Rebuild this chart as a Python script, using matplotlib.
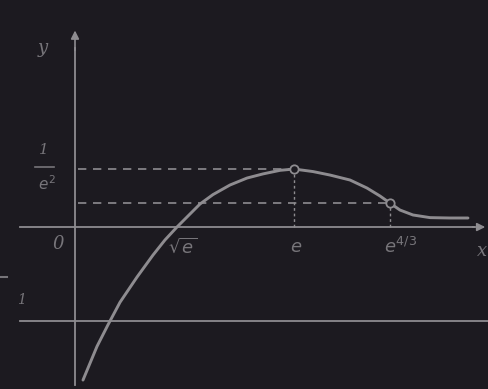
import matplotlib
matplotlib.use("Agg")
import matplotlib.pyplot as plt

# curve (schematic units: 1 unit = distance 0 -> -1 on y axis)
curve_x = [0.085, 0.234, 0.351, 0.479, 0.660, 0.830, 0.957, 1.085, 1.191, 1.330,
           1.468, 1.649, 1.830, 2.000, 2.181, 2.330, 2.532, 2.713, 2.926, 3.106,
           3.245, 3.351, 3.457, 3.596, 3.777, 3.989, 4.181]
curve_y = [-1.628, -1.270, -1.040, -0.800, -0.532, -0.298, -0.138, 0.0, 0.106, 0.245,
           0.345, 0.447, 0.521, 0.565, 0.603, 0.617, 0.590, 0.553, 0.500, 0.415,
           0.330, 0.255, 0.181, 0.128, 0.100, 0.096, 0.096]

# special points: maximum and inflection
special_x = [2.330, 3.351]
special_y = [0.617, 0.255]

x_ticks = [1.14, 2.35, 3.46]
x_tick_labels = [r"$\sqrt{e}$", r"$e$", r"$e^{4/3}$"]
asymptote_y = -1.0

BG = "#1c1a20"
LINE = "#8e8c90"
TEXT = "#77757a"

fig = plt.figure(figsize=(4.88, 3.89), dpi=100, facecolor=BG)
ax = fig.add_axes([0, 0, 1, 1], facecolor=BG)
ax.set_xlim(-0.798, 4.394)
ax.set_ylim(-1.723, 2.415)
ax.axis("off")

# axes
ax.plot([-0.585, 4.25], [0, 0], color=LINE, lw=1.3)
ax.annotate("", xy=(4.394, 0), xytext=(4.2, 0),
            arrowprops=dict(arrowstyle="-|>", color=LINE, lw=1.2, mutation_scale=12))
ax.plot([0, 0], [-1.68, 1.9], color=LINE, lw=1.3)
ax.annotate("", xy=(0, 2.12), xytext=(0, 1.85),
            arrowprops=dict(arrowstyle="-|>", color=LINE, lw=1.2, mutation_scale=12))

# line y = -1
ax.plot([-0.585, 4.394], [asymptote_y, asymptote_y], color=LINE, lw=1.3)

# dashed guides
for sx, sy in zip(special_x, special_y):
    ax.plot([0.03, sx], [sy, sy], color=LINE, lw=1.2, ls=(0, (5, 4)))
    ax.plot([sx, sx], [0, sy], color=LINE, lw=1.0, ls=(0, (2, 2)))

# curve
ax.plot(curve_x, curve_y, color=LINE, lw=2.1, solid_capstyle="round",
        solid_joinstyle="round")
ax.plot(special_x, special_y, "o", ms=6, mfc=BG, mec=LINE, mew=1.3)

fs = 13
style = dict(color=TEXT, fontsize=fs, style="italic", family="DejaVu Serif")
for tx, lab in zip(x_ticks, x_tick_labels):
    ax.text(tx, -0.21, lab, ha="center", va="center", color=TEXT, fontsize=fs)
ax.text(-0.18, -0.18, "0", ha="center", va="center", **style)
ax.text(4.33, -0.25, "x", ha="center", va="center", **style)
ax.text(-0.34, 1.90, "y", ha="center", va="center", **style)
ax.text(-0.33, 0.82, "1", ha="center", va="center", color=TEXT, fontsize=11,
        style="italic", family="DejaVu Serif")
ax.plot([-0.43, -0.22], [0.64, 0.64], color=TEXT, lw=1.2)
ax.text(-0.30, 0.46, r"$e^2$", ha="center", va="center", color=TEXT, fontsize=11)
ax.text(-0.57, -0.78, "1", ha="center", va="center", color=TEXT, fontsize=10,
        style="italic", family="DejaVu Serif")
ax.plot([-0.798, -0.72], [-0.53, -0.53], color=TEXT, lw=1.5)

fig.savefig("out.png", dpi=100, facecolor=BG)
